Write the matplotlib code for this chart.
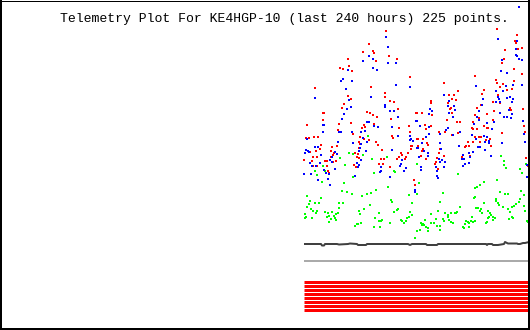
"""Telemetry plot for KE4HGP-10, redrawn with matplotlib."""

import matplotlib
matplotlib.use("Agg")
import matplotlib.pyplot as plt
from matplotlib.lines import Line2D
from matplotlib.path import Path

TITLE = "Telemetry Plot For KE4HGP-10 (last 240 hours) 225 points."

# sample index (0 = oldest of the 225 points) and raw telemetry value
red_x = [44, 45, 48, 36, 39, 11, 42, 47, 44, 40, 38, 19, 20, 19, 47, 3, 35, 34, 49, 2, 3, 5, 10, 14,
         17, 33, 28, 55, 6, 12, 27, 9, 13, 16, 30, 29, 0, 51, 53, 55, 54, 8, 21, 23, 32, 27, 9, 13,
         23, 50, 52, 25, 24, 29,
         82, 65, 59, 69, 70, 72, 85, 93, 106, 67, 81, 81, 86, 90, 94, 63, 66, 69, 73, 87, 113, 60,
         61, 58, 70, 95, 105, 106, 56, 60, 89, 88, 65, 72, 113, 56, 55, 108, 107, 74, 78, 97, 98,
         95, 93, 104, 102, 101, 107, 77, 80, 75, 79, 86, 110, 111,
         140, 171, 145, 150, 154, 127, 127, 144, 148, 152, 146, 147, 112, 118, 128, 148, 153, 143,
         156, 169, 121, 127, 168, 122, 135, 141, 148, 154, 114, 119, 123, 124, 164, 165, 161, 162,
         114, 136, 135, 119, 118, 140, 158, 166, 117, 122, 133, 132, 131, 134,
         193, 213, 211, 212, 218, 214, 201, 200, 198, 210, 218, 192, 193, 199, 210, 196, 180, 203,
         208, 178, 194, 194, 189, 196, 177, 206, 207, 173, 190, 219, 171, 175, 183, 189, 220, 180,
         183, 184, 169, 173, 221, 198, 175, 177, 171, 186, 182, 169, 176, 187, 222, 225, 224]
red_v = [271, 264, 259, 262, 261, 242, 241, 231, 234, 226, 222, 217, 217, 210, 207, 205, 206, 200,
         196, 192, 191, 192, 193, 193, 185, 184, 183, 188, 178, 179, 179, 173, 173, 181, 177, 175,
         170, 177, 173, 172, 176, 169, 169, 169, 169, 173, 164, 164, 164, 165, 163, 157, 159, 168,
         299, 286, 278, 279, 277, 269, 274, 271, 253, 243, 237, 233, 229, 228, 221, 218, 217, 215,
         213, 211, 217, 205, 203, 202, 206, 202, 204, 198, 193, 191, 192, 194, 190, 188, 191, 186,
         182, 184, 184, 185, 180, 177, 175, 173, 171, 177, 173, 171, 181, 171, 171, 166, 166, 163,
         150, 145,
         247, 254, 235, 235, 239, 229, 227, 227, 231, 230, 221, 222, 217, 217, 215, 217, 208, 210,
         208, 208, 205, 204, 202, 201, 198, 198, 195, 197, 191, 191, 187, 185, 188, 184, 183, 184,
         184, 181, 177, 181, 179, 174, 173, 174, 174, 171, 172, 168, 166, 161,
         301, 295, 289, 287, 282, 281, 280, 271, 267, 261, 256, 250, 247, 246, 249, 243, 240, 240,
         241, 236, 235, 233, 228, 227, 225, 222, 220, 222, 219, 221, 215, 212, 216, 210, 204, 204,
         202, 202, 201, 201, 198, 197, 193, 193, 193, 191, 190, 188, 188, 184, 172, 164, 164]

blue_x = [44, 39, 37, 48, 42, 11, 45, 47, 43, 40, 38, 19, 20, 19, 35, 37, 48, 3, 49, 34, 11, 14, 2,
          4, 5, 55, 1, 17, 31, 33, 28, 26, 28, 53, 54, 6, 8, 12, 16, 20, 22, 25, 31, 0, 7, 51, 14,
          24, 26,
          82, 84, 65, 69, 59, 69, 73, 84, 92, 92, 106, 67, 81, 81, 86, 90, 94, 63, 65, 113, 70, 74,
          88, 106, 61, 57, 94, 59, 107, 106, 63, 57, 56, 109, 114, 62, 88, 98, 97, 96, 102, 100, 57,
          55, 77, 77, 76, 86, 111, 111,
          172, 140, 145, 144, 150, 151, 126, 128, 125, 145, 149, 112, 116, 125, 144, 156, 149, 136,
          142, 168, 122, 125, 118, 113, 120, 124, 136, 137, 155, 159, 165, 166, 115, 117, 117, 124,
          135, 136, 138, 141, 132, 133, 133, 134, 161, 160, 158, 165, 159, 140,
          194, 213, 212, 212, 213, 215, 218, 198, 197, 203, 209, 218, 202, 192, 199, 194, 195, 196,
          179, 206, 209, 208, 203, 178, 175, 205, 192, 203, 208, 196, 200, 207, 170, 173, 175, 219,
          183, 190, 188, 220, 180, 183, 185, 185, 172, 181, 221, 174, 176, 169, 181, 198, 187, 223,
          225, 223, 215]
blue_v = [260, 251, 249, 249, 241, 232, 230, 223, 221, 216, 211, 205, 205, 198, 198, 198, 198, 191,
          187, 188, 183, 183, 180, 179, 178, 179, 177, 175, 178, 176, 173, 170, 168, 167, 163, 167,
          164, 164, 167, 160, 157, 156, 161, 156, 156, 154, 150, 151, 145,
          293, 283, 274, 271, 269, 262, 260, 267, 267, 245, 243, 233, 225, 223, 219, 219, 213, 208,
          208, 209, 204, 203, 203, 194, 199, 198, 194, 192, 191, 190, 188, 186, 182, 189, 182, 179,
          180, 170, 166, 164, 162, 159, 170, 165, 163, 159, 158, 153, 140, 138,
          244, 235, 229, 224, 224, 220, 221, 219, 216, 217, 213, 209, 204, 203, 202, 198, 195, 196,
          200, 195, 193, 196, 187, 182, 179, 177, 187, 181, 184, 175, 177, 173, 173, 163, 160, 174,
          171, 168, 170, 168, 163, 159, 154, 152, 166, 171, 171, 167, 164, 163,
          291, 289, 281, 275, 274, 271, 270, 270, 259, 257, 245, 245, 244, 239, 239, 233, 231, 228,
          231, 233, 231, 228, 232, 225, 219, 220, 228, 213, 216, 217, 213, 212, 206, 213, 210, 209,
          207, 208, 201, 196, 194, 193, 189, 187, 191, 188, 188, 183, 183, 178, 180, 187, 174, 153,
          157, 165, 323]

green_x = [45, 49, 36, 21, 19, 11, 13, 18, 40, 49, 41, 38, 43, 48, 3, 6, 5, 11, 17, 15, 39, 35, 3,
           7, 2, 9, 13, 12, 1, 1, 8, 21, 24, 25, 28, 30, 32, 31, 34, 35, 27, 23, 25, 32, 55, 51, 53,
           54,
           64, 59, 68, 83, 113, 70, 90, 91, 84, 72, 67, 58, 63, 87, 88, 105, 108, 66, 60, 90, 94, 93,
           56, 106, 75, 71, 75, 77, 78, 57, 70, 76, 86, 97, 98, 100, 102, 103, 105, 108, 111, 113,
           154, 115, 139, 171, 113, 136, 156, 134, 127, 151, 152, 153, 141, 144, 144, 147, 117, 119,
           118, 120, 116, 121, 122, 124, 127, 130, 133, 136, 136, 139, 140, 145, 147, 149, 159, 160,
           162, 164, 165, 167, 161, 171, 165, 124, 132,
           197, 200, 202, 200, 222, 216, 218, 193, 180, 176, 173, 171, 217, 196, 201, 220, 204, 170,
           192, 192, 216, 215, 194, 180, 212, 195, 210, 172, 174, 177, 208, 220, 176, 178, 199, 204,
           184, 221, 206, 186, 187, 185, 184, 183, 182, 189, 191, 189, 208, 209, 205, 168, 169, 223,
           224]
green_v = [177, 176, 172, 159, 164, 159, 155, 148, 147, 153, 165, 139, 138, 136, 134, 129, 126,
           127, 132, 127, 127, 127, 123, 121, 113, 119, 119, 117, 116, 112, 112, 118, 117, 114, 118,
           114, 116, 112, 117, 122, 111, 113, 108, 110, 119, 104, 106, 106,
           194, 175, 171, 173, 166, 157, 159, 158, 143, 140, 137, 134, 136, 130, 128, 135, 127, 125,
           121, 118, 121, 120, 116, 118, 117, 112, 109, 109, 110, 107, 103, 103, 107, 110, 109, 107,
           109, 112, 113, 115, 92, 99,
           156, 147, 137, 133, 136, 128, 123, 119, 116, 117, 117, 118, 117, 115, 113, 117, 107, 106,
           105, 105, 100, 110, 103, 102, 107, 107, 104, 104, 100, 111, 109, 110, 108, 107, 103, 102,
           109, 108, 107, 109, 106, 109, 103, 99, 111,
           174, 165, 162, 169, 166, 161, 157, 150, 148, 145, 143, 142, 139, 138, 136, 135, 136, 132,
           131, 129, 131, 128, 127, 127, 126, 125, 124, 122, 122, 121, 123, 124, 119, 117, 123, 121,
           119, 119, 118, 117, 115, 113, 112, 108, 107, 113, 112, 110, 113, 112, 111, 113, 108, 109,
           108]

# slowly varying analog channel (dark trace)
dark_x = [0, 17, 18, 20, 21, 33, 35, 44, 46, 53, 54, 62, 63, 104, 106, 108, 122, 123, 133, 134, 182,
          183, 184, 188, 189, 194, 200, 201, 203, 204, 213, 214, 216, 219, 221, 225]
dark_v = [86, 86, 84.5, 84.5, 86, 86, 85.5, 86, 86.5, 86, 85, 85, 86, 86, 85, 86, 86, 85, 85, 86,
          86, 85, 86, 86, 85, 85, 86, 88, 87, 86.5, 86.5, 86, 86, 87, 87, 88]

# constant channel (gray trace)
gray_x = [0, 225]
gray_v = [69.5, 69.5]

# digital bits, all set (red bands)
bit_levels = [48.5, 44.5, 40.5, 36.5, 32.5, 28.5, 24.5, 20.5]
bit_x = [0, 225]

W, H, DPI = 530, 330, 100
PX = 72.0 / DPI  # one pixel in points

fig = plt.figure(figsize=(W / DPI, H / DPI), dpi=DPI)
fig.patch.set_facecolor("white")
ax = fig.add_axes([0, 0, 1, 1])
ax.set_xlim(-304, 226)
ax.set_ylim(0, 330)
ax.axis("off")

# small 1x2 pixel dots like the original renderer
dot = Path([(-0.5, -1), (0.5, -1), (0.5, 1), (-0.5, 1), (-0.5, -1)], closed=True)
dot_kw = dict(ls="none", marker=dot, markersize=2.3 * PX, mew=0)

ax.plot(green_x, green_v, color="#00ff00", **dot_kw)
ax.plot(red_x, red_v, color="#ff0000", **dot_kw)
ax.plot(blue_x, blue_v, color="#0000ff", **dot_kw)

ax.plot(dark_x, dark_v, color="#404040", lw=2 * PX, solid_capstyle="butt")
ax.plot(gray_x, gray_v, color="#aaaaaa", lw=2 * PX, solid_capstyle="butt")
for lvl in bit_levels:
    ax.plot(bit_x, [lvl, lvl], color="#ff0000", lw=3 * PX, solid_capstyle="butt")

fig.text(284.5 / W, 1 - 22 / H, TITLE, ha="center", va="baseline",
         family="Liberation Mono", fontsize=9.45, color="black")

# frame: thin top, heavier left/right/bottom
frame = [((0, 1), (1 - 0.5 / H, 1 - 0.5 / H), 1),
         ((1 / W, 1 / W), (0, 1), 2),
         ((1 - 1 / W, 1 - 1 / W), (0, 1), 2),
         ((0, 1), (1 / H, 1 / H), 2)]
for xs, ys, w in frame:
    fig.add_artist(Line2D(xs, ys, transform=fig.transFigure, color="black", lw=w * PX))

fig.savefig("out.png", dpi=DPI)
